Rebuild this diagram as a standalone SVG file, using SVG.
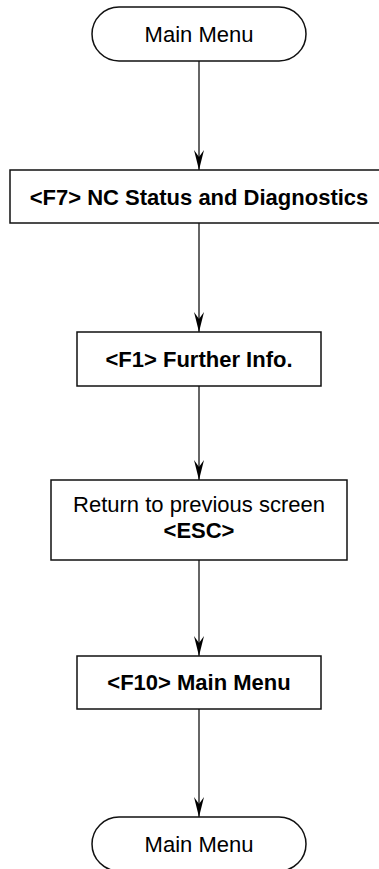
<svg xmlns="http://www.w3.org/2000/svg" width="379" height="869" viewBox="0 0 379 869">
  <style>
    .box { fill: #ffffff; stroke: #111111; stroke-width: 1.5; }
    .lbl { font-family: "Liberation Sans", Arial, sans-serif; font-size: 22px; fill: #000000; text-anchor: middle; }
    .b { font-weight: bold; }
    .edge { stroke: #333333; stroke-width: 1.5; fill: none; marker-end: url(#arrow); }
  </style>
  <defs>
    <!-- narrow notched arrowhead, tip at the line end -->
    <marker id="arrow" markerUnits="userSpaceOnUse" markerWidth="22" markerHeight="12" viewBox="-21 -6 22 12" refX="0" refY="0" orient="auto">
      <path d="M0,0 L-20,-5 L-13,0 L-20,5 Z" fill="#000000"/>
    </marker>
  </defs>

  <!-- connectors -->
  <g id="connectors">
    <line class="edge" x1="199" y1="61" x2="199" y2="170"/>
    <line class="edge" x1="199" y1="223" x2="199" y2="332"/>
    <line class="edge" x1="199" y1="386" x2="199" y2="480"/>
    <line class="edge" x1="199" y1="560" x2="199" y2="656"/>
    <line class="edge" x1="199" y1="709" x2="199" y2="817"/>
  </g>

  <!-- start terminal -->
  <g id="start">
    <rect class="box" x="92" y="7" width="214" height="54" rx="27" ry="27"/>
    <text class="lbl" x="199" y="42">Main Menu</text>
  </g>

  <g id="f7">
    <rect class="box" x="10" y="170" width="380" height="53"/>
    <text class="lbl b" x="199" y="205">&lt;F7&gt; NC Status and Diagnostics</text>
  </g>

  <g id="f1">
    <rect class="box" x="77" y="332" width="244" height="54"/>
    <text class="lbl b" x="199" y="367">&lt;F1&gt; Further Info.</text>
  </g>

  <g id="esc">
    <rect class="box" x="51" y="480" width="296" height="80"/>
    <text class="lbl" x="199" y="512">Return to previous screen</text>
    <text class="lbl b" x="199" y="538">&lt;ESC&gt;</text>
  </g>

  <g id="f10">
    <rect class="box" x="77" y="656" width="244" height="53"/>
    <text class="lbl b" x="199" y="690">&lt;F10&gt; Main Menu</text>
  </g>

  <!-- end terminal -->
  <g id="end">
    <rect class="box" x="92" y="817" width="214" height="54" rx="27" ry="27"/>
    <text class="lbl" x="199" y="852">Main Menu</text>
  </g>
</svg>
